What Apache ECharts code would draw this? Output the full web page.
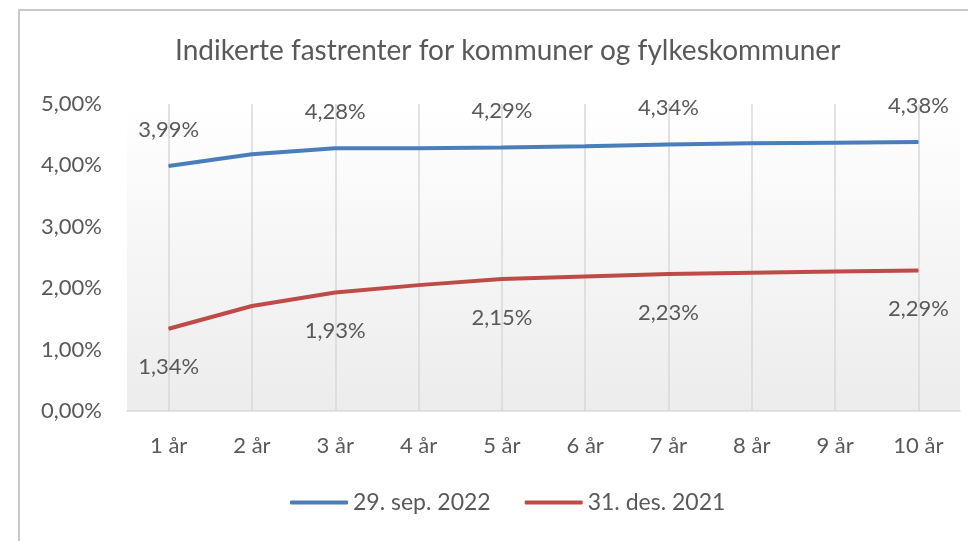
<!DOCTYPE html>
<html>
<head>
<meta charset="utf-8">
<script src="https://cdn.jsdelivr.net/npm/echarts@6/dist/echarts.min.js"></script>
<style>
  html, body { margin: 0; padding: 0; background: #fff; }
  #chart { width: 968px; height: 541px; }
</style>
</head>
<body>
<div id="chart"></div>
<script>
const titleText = "Indikerte fastrenter for kommuner og fylkeskommuner";
const categories = ["1 år", "2 år", "3 år", "4 år", "5 år", "6 år", "7 år", "8 år", "9 år", "10 år"];
const seriesNames = ["29. sep. 2022", "31. des. 2021"];
const sep2022 = [3.99, 4.18, 4.28, 4.28, 4.29, 4.31, 4.34, 4.36, 4.37, 4.38];
const des2021 = [1.34, 1.71, 1.93, 2.05, 2.15, 2.19, 2.23, 2.25, 2.27, 2.29];
const labelledIdx = [0, 2, 4, 6, 9];
const yTicks = [0, 1, 2, 3, 4, 5];

const chart = echarts.init(document.getElementById("chart"));
const font = "Lato, 'Open Sans', sans-serif";
const textColor = "#595959";

function fmt(v) {
  return v.toFixed(2).replace(".", ",") + "%";
}

function makeSeries(name, values, color, pos, dist) {
  return {
    name: name,
    type: "line",
    data: values.map((v, i) => ({
      value: v,
      label: { show: labelledIdx.indexOf(i) >= 0 }
    })),
    symbol: "circle",
    symbolSize: 1,
    showSymbol: true,
    lineStyle: { width: 4, color: color },
    itemStyle: { color: color },
    label: {
      position: pos,
      distance: dist,
      formatter: (p) => fmt(p.value),
      color: textColor,
      fontFamily: font,
      fontSize: 22
    },
    z: 3
  };
}

chart.setOption({
  backgroundColor: "#fff",
  animation: false,
  graphic: [{
    type: "polyline",
    shape: { points: [[19, 541], [19, 10], [968, 10]] },
    style: { stroke: "#c8c8c8", lineWidth: 2, fill: null },
    silent: true
  }],
  title: {
    text: titleText,
    left: 170,
    top: 32,
    textStyle: { color: textColor, fontFamily: font, fontSize: 28, fontWeight: "normal" }
  },
  legend: {
    bottom: 22,
    left: 285,
    itemWidth: 58,
    itemHeight: 4,
    itemGap: 34,
    icon: "roundRect",
    data: seriesNames,
    textStyle: { color: textColor, fontFamily: font, fontSize: 23 }
  },
  grid: {
    left: 127,
    right: 8,
    top: 104,
    bottom: 130,
    show: true,
    borderWidth: 0,
    backgroundColor: {
      type: "linear", x: 0, y: 0, x2: 0, y2: 1,
      colorStops: [{ offset: 0, color: "#ffffff" }, { offset: 1, color: "#ececec" }]
    }
  },
  xAxis: {
    type: "category",
    data: categories,
    boundaryGap: true,
    axisLine: { lineStyle: { color: "#d9d9d9", width: 1.5 } },
    axisTick: { show: false },
    splitLine: { show: true, alignWithLabel: true, lineStyle: { color: "#d9d9d9", width: 1.5 } },
    axisLabel: { color: textColor, fontFamily: font, fontSize: 22, margin: 24 }
  },
  yAxis: {
    type: "value",
    min: yTicks[0],
    max: yTicks[yTicks.length - 1],
    interval: 1,
    axisLine: { show: false },
    axisTick: { show: false },
    splitLine: { show: false },
    axisLabel: { color: textColor, fontFamily: font, fontSize: 22, margin: 25, formatter: (v) => fmt(v) }
  },
  series: [
    makeSeries(seriesNames[0], sep2022, "#4a7ebb", "top", 25),
    makeSeries(seriesNames[1], des2021, "#be4b48", "bottom", 27)
  ]
});
</script>
</body>
</html>
